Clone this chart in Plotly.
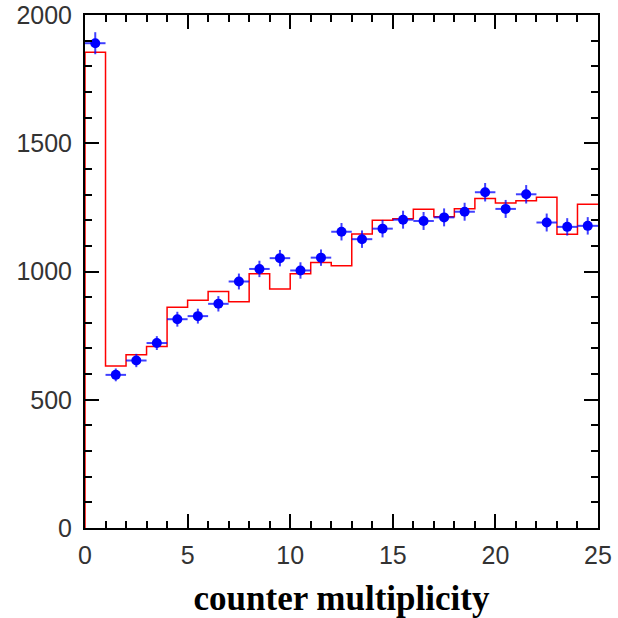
import plotly.graph_objects as go

# bin edges / centers
bin_centers = [0.5, 1.5, 2.5, 3.5, 4.5, 5.5, 6.5, 7.5, 8.5, 9.5, 10.5, 11.5, 12.5,
               13.5, 14.5, 15.5, 16.5, 17.5, 18.5, 19.5, 20.5, 21.5, 22.5, 23.5, 24.5]
bin_edges = list(range(0, 26))

# data points (blue)
data_counts = [1890, 597, 653, 721, 814, 826, 874, 961, 1010, 1052, 1004, 1054, 1155,
               1126, 1167, 1202, 1197, 1211, 1233, 1309, 1244, 1301, 1191, 1174, 1178]
data_errors = [43, 25, 26, 27, 29, 29, 30, 31, 32, 32, 32, 32, 34,
               34, 34, 35, 35, 35, 35, 36, 35, 36, 35, 34, 34]
bin_halfwidth = [0.5] * 25

# simulation histogram (red)
sim_counts = [1855, 632, 675, 708, 861, 888, 922, 882, 991, 932, 991, 1035, 1022,
              1146, 1200, 1206, 1243, 1213, 1245, 1285, 1267, 1276, 1289, 1145, 1262]

# step representation built from bin edges
step_x = []
step_y = []
step_x.append(bin_edges[0])
step_y.append(0)
for i, v in enumerate(sim_counts):
    step_x += [bin_edges[i], bin_edges[i + 1]]
    step_y += [v, v]

fig = go.Figure()
fig.add_trace(go.Scatter(
    x=step_x, y=step_y, mode="lines",
    line=dict(color="#ff0000", width=1.5),
    hoverinfo="skip", showlegend=False,
))
fig.add_trace(go.Scatter(
    x=bin_centers, y=data_counts, mode="markers",
    marker=dict(color="#0000ff", size=10),
    error_y=dict(type="data", array=data_errors, color="rgba(0,0,255,0.75)",
                 thickness=2, width=0),
    error_x=dict(type="data", array=bin_halfwidth, color="rgba(0,0,255,0.75)",
                 thickness=2, width=0),
    showlegend=False,
))

axis_common = dict(
    showline=True, linecolor="black", linewidth=2, mirror="ticks",
    ticks="inside", ticklen=14, tickwidth=1.5, tickcolor="black",
    showgrid=False, zeroline=False, automargin=False,
    tickfont=dict(family="Liberation Sans, Arial, sans-serif", size=25, color="#333"),
)

fig.update_xaxes(
    range=[0, 25], tick0=0, dtick=5,
    minor=dict(ticks="inside", ticklen=7, tickwidth=1.5, tickcolor="black", dtick=1),
    ticklabelstandoff=4,
    title=dict(text="<b>counter multiplicity</b>",
               font=dict(family="Liberation Serif, Times New Roman, serif", size=35, color="black"),
               standoff=20),
    **axis_common,
)
fig.update_yaxes(
    range=[0, 2000], tick0=0, dtick=500,
    minor=dict(ticks="inside", ticklen=7, tickwidth=1.5, tickcolor="black", dtick=100),
    ticklabelstandoff=6,
    **axis_common,
)

fig.update_layout(
    width=618, height=618,
    margin=dict(l=85, r=20, t=15, b=90),
    plot_bgcolor="white", paper_bgcolor="white",
)

fig.write_html("out.html", config={"displayModeBar": False},
               post_script="document.body.style.margin='0';")
